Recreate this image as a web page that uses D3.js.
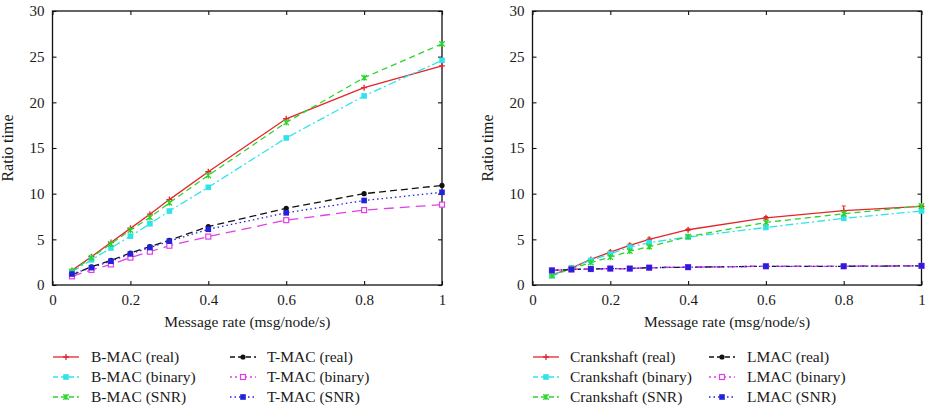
<!DOCTYPE html>
<html><head><meta charset="utf-8">
<script src="https://cdn.jsdelivr.net/npm/d3@7"></script>
<style>body{margin:0;background:#fff}svg{display:block}text{font-family:"Liberation Serif","Times New Roman",serif;fill:#1a1a1a}</style>
</head><body>
<script>
const xValues = [0.05, 0.1, 0.15, 0.2, 0.25, 0.3, 0.4, 0.6, 0.8, 1.0];
const xTicks = [0, 0.2, 0.4, 0.6, 0.8, 1];
const yTicks = [0, 5, 10, 15, 20, 25, 30];
const xTickLabels = ["0", "0.2", "0.4", "0.6", "0.8", "1"];

// Left panel
const bmacReal   = [1.6, 3.1, 4.65, 6.2, 7.75, 9.35, 12.4, 18.2, 21.6, 24.0];
const bmacBinary = [1.45, 2.75, 4.05, 5.35, 6.7, 8.1, 10.7, 16.1, 20.7, 24.6];
const bmacSNR    = [1.5, 3.0, 4.5, 6.0, 7.4, 9.0, 12.0, 17.8, 22.7, 26.4];
const tmacReal   = [1.1, 2.0, 2.7, 3.5, 4.2, 4.9, 6.4, 8.4, 10.0, 10.9];
const tmacBinary = [0.95, 1.65, 2.25, 3.0, 3.65, 4.3, 5.3, 7.1, 8.2, 8.8];
const tmacSNR    = [1.2, 1.9, 2.6, 3.4, 4.1, 4.8, 6.1, 7.9, 9.25, 10.15];

// Right panel
const crankReal   = [1.1, 1.85, 2.8, 3.6, 4.35, 5.0, 6.05, 7.35, 8.15, 8.6];
const crankRealErr = [0.05, 0.05, 0.1, 0.15, 0.15, 0.15, 0.1, 0.15, 0.5, 0.1];
const crankBinary = [1.05, 1.9, 2.7, 3.4, 4.15, 4.65, 5.25, 6.3, 7.3, 8.1];
const crankSNR    = [1.0, 1.8, 2.45, 3.05, 3.7, 4.2, 5.3, 6.85, 7.8, 8.65];
const lmacReal    = [1.6, 1.7, 1.75, 1.8, 1.8, 1.9, 1.95, 2.05, 2.05, 2.1];
const lmacBinary  = [1.6, 1.7, 1.75, 1.8, 1.8, 1.9, 1.95, 2.05, 2.05, 2.1];
const lmacSNR     = [1.6, 1.7, 1.75, 1.8, 1.8, 1.9, 1.95, 2.05, 2.05, 2.1];

const leftNames  = ["B-MAC (real)", "B-MAC (binary)", "B-MAC (SNR)", "T-MAC (real)", "T-MAC (binary)", "T-MAC (SNR)"];
const rightNames = ["Crankshaft (real)", "Crankshaft (binary)", "Crankshaft (SNR)", "LMAC (real)", "LMAC (binary)", "LMAC (SNR)"];
const xTitle = "Message rate (msg/node/s)";
const yTitle = "Ratio time";

const styles = [
  {color:"#e3262b", dash:null, legendDash:null, marker:"plus"},
  {color:"#2fe3ea", dash:"8,3,2,3", legendDash:"5,3", marker:"fsquare"},
  {color:"#2bd42b", dash:"6,4", legendDash:"5,3", marker:"x"},
  {color:"#111111", dash:"7,4", legendDash:"5,3", marker:"circle"},
  {color:"#e040e6", dash:"10,6", legendDash:"2,3", marker:"osquare"},
  {color:"#2222dd", dash:"1.5,3", legendDash:"1.5,3", marker:"fsquare"}
];

const W = 937, H = 408;
const svg = d3.select("body").append("svg").attr("width", W).attr("height", H);

function marker(g, type, x, y, color){
  if(type==="plus"){
    g.append("path").attr("d",`M${x-3},${y}H${x+3}M${x},${y-3}V${y+3}`).attr("stroke",color).attr("stroke-width",1.3);
  } else if(type==="x"){
    g.append("path").attr("d",`M${x-2.7},${y-2.7}L${x+2.7},${y+2.7}M${x-2.7},${y+2.7}L${x+2.7},${y-2.7}M${x},${y-3}V${y+3}`).attr("stroke",color).attr("stroke-width",1.3);
  } else if(type==="circle"){
    g.append("circle").attr("cx",x).attr("cy",y).attr("r",2.6).attr("fill",color);
  } else if(type==="fsquare"){
    g.append("rect").attr("x",x-2.8).attr("y",y-2.8).attr("width",5.6).attr("height",5.6).attr("fill",color);
  } else if(type==="osquare"){
    g.append("rect").attr("x",x-2.5).attr("y",y-2.5).attr("width",5).attr("height",5).attr("fill","#fff").attr("stroke",color).attr("stroke-width",1.2);
  }
}

function panel(cfg){
  const {x0,x1,y0,y1,series,errors,names,titleX,legX,legTextX} = cfg;
  const x = d3.scaleLinear().domain([0,1]).range([x0,x1]);
  const y = d3.scaleLinear().domain([0,30]).range([y1,y0]);
  const g = svg.append("g");

  const ax = g.append("g").attr("transform",`translate(0,${y1})`)
    .call(d3.axisBottom(x).tickValues(xTicks).tickSizeInner(-4).tickSizeOuter(0).tickPadding(9).tickFormat((d,i)=>xTickLabels[i]));
  const axT = g.append("g").attr("transform",`translate(0,${y0})`)
    .call(d3.axisTop(x).tickValues(xTicks).tickSizeInner(-4).tickSizeOuter(0).tickFormat(""));
  const ay = g.append("g").attr("transform",`translate(${x0},0)`)
    .call(d3.axisLeft(y).tickValues(yTicks).tickSizeInner(-4).tickSizeOuter(0).tickPadding(8));
  const ayR = g.append("g").attr("transform",`translate(${x1},0)`)
    .call(d3.axisRight(y).tickValues(yTicks).tickSizeInner(-4).tickSizeOuter(0).tickFormat(""));
  [ax,axT,ay,ayR].forEach(a=>{
    a.attr("font-family",null);
    a.select(".domain").remove();
    a.selectAll(".tick line").attr("stroke","#111").attr("stroke-width",1.1);
    a.selectAll("text").style("font-family",'"Liberation Serif",serif').style("font-size","15px").attr("fill","#1a1a1a");
  });
  g.append("rect").attr("x",x0).attr("y",y0).attr("width",x1-x0).attr("height",y1-y0)
    .attr("fill","none").attr("stroke","#111").attr("stroke-width",1.3);

  const line = d3.line().x((d,i)=>x(xValues[i])).y(d=>y(d));
  series.forEach((s,k)=>{
    const st = styles[k];
    g.append("path").datum(s).attr("d",line).attr("fill","none")
      .attr("stroke",st.color).attr("stroke-width",1.3).attr("stroke-dasharray",st.dash);
  });
  if(errors){
    errors.forEach((e,k)=>{
      if(!e) return;
      const st = styles[k];
      e.forEach((ev,i)=>{
        const cx = x(xValues[i]), ya = y(series[k][i]-ev), yb = y(series[k][i]+ev);
        g.append("path").attr("d",`M${cx},${ya}V${yb}M${cx-2},${ya}H${cx+2}M${cx-2},${yb}H${cx+2}`)
          .attr("stroke",st.color).attr("stroke-width",1).attr("fill","none");
      });
    });
  }
  series.forEach((s,k)=>{
    const st = styles[k];
    s.forEach((v,i)=>marker(g, st.marker, x(xValues[i]), y(v), st.color));
  });

  g.append("text").attr("x",(x0+x1)/2).attr("y",327).attr("text-anchor","middle").style("font-size","15.5px").text(xTitle);
  g.append("text").attr("transform",`translate(${titleX},${(y0+y1)/2}) rotate(-90)`).attr("text-anchor","middle").style("font-size","16px").text(yTitle);

  const rowsY = [357, 377, 397];
  names.forEach((n,k)=>{
    const st = styles[k];
    const col = Math.floor(k/3), row = k%3;
    const lx = legX[col], ly = rowsY[row];
    g.append("line").attr("x1",lx).attr("x2",lx+26).attr("y1",ly).attr("y2",ly)
      .attr("stroke",st.color).attr("stroke-width",1.3).attr("stroke-dasharray",st.legendDash);
    marker(g, st.marker, lx+13, ly, st.color);
    g.append("text").attr("x",legTextX[col]).attr("y",ly+5).style("font-size","15.5px").text(n);
  });
}

panel({x0:52.5,x1:442,y0:11,y1:285,
  series:[bmacReal,bmacBinary,bmacSNR,tmacReal,tmacBinary,tmacSNR],
  errors:null,
  names:leftNames,titleX:13,legX:[53,230],legTextX:[91,267]});
panel({x0:532.5,x1:921.5,y0:11,y1:285,
  series:[crankReal,crankBinary,crankSNR,lmacReal,lmacBinary,lmacSNR],
  errors:[crankRealErr,null,null,null,null,null],
  names:rightNames,titleX:493,legX:[533,709],legTextX:[570,747]});
</script>
</body></html>
